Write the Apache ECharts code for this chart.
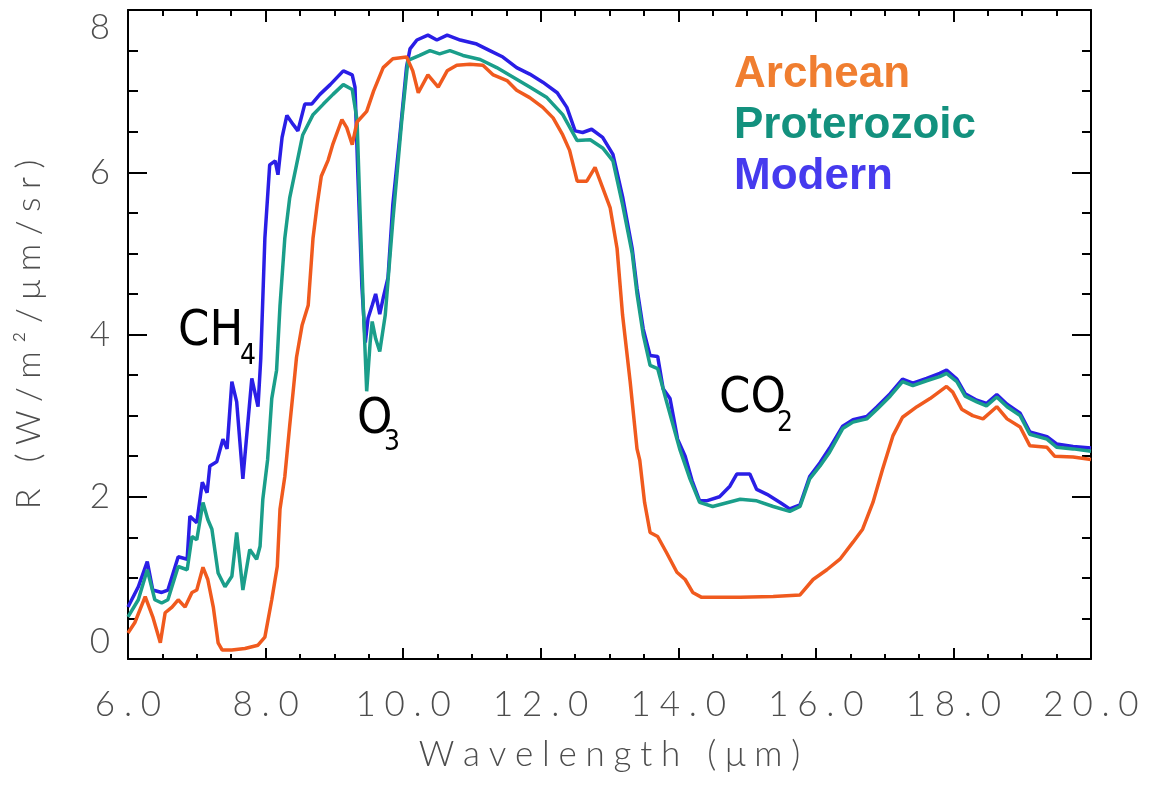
<!DOCTYPE html>
<html lang="en" style="height: 100%">
<head>
    <meta charset="utf-8">
    <title>Emission spectra</title>
    <script src="https://cdn.jsdelivr.net/npm/echarts@6/dist/echarts.min.js"></script>
</head>
<body style="height: 100%; margin: 0; background: #fff">
<div id="main" style="width:1160px;height:788px"></div>
<script type="text/javascript">
    // [wavelength (um), R]
    var archean = [
        [6.00,0.32],[6.10,0.45],[6.25,0.77],[6.36,0.52],[6.47,0.20],[6.54,0.57],[6.64,0.64],[6.73,0.73],
        [6.83,0.64],[6.93,0.82],[7.00,0.85],[7.09,1.13],[7.16,0.98],[7.24,0.64],[7.31,0.20],[7.37,0.11],
        [7.51,0.11],[7.70,0.13],[7.89,0.17],[7.99,0.27],[8.09,0.73],[8.17,1.14],[8.21,1.85],[8.28,2.25],
        [8.35,2.87],[8.40,3.29],[8.45,3.72],[8.53,4.11],[8.62,4.36],[8.69,5.19],[8.75,5.60],[8.81,5.95],
        [8.91,6.15],[8.98,6.35],[9.11,6.65],[9.18,6.55],[9.26,6.34],[9.33,6.62],[9.47,6.75],[9.57,7.00],
        [9.71,7.29],[9.85,7.40],[10.05,7.42],[10.14,7.25],[10.22,6.98],[10.36,7.20],[10.51,7.05],[10.64,7.25],
        [10.78,7.32],[10.97,7.33],[11.16,7.32],[11.31,7.20],[11.51,7.13],[11.65,7.01],[11.84,6.92],[12.03,6.80],
        [12.18,6.67],[12.32,6.46],[12.42,6.27],[12.53,5.89],[12.67,5.89],[12.79,6.06],[12.90,5.81],[13.01,5.56],
        [13.11,5.06],[13.19,4.24],[13.30,3.42],[13.40,2.59],[13.44,2.45],[13.51,1.93],[13.59,1.56],[13.70,1.51],
        [13.83,1.31],[13.98,1.07],[14.10,0.98],[14.21,0.82],[14.34,0.76],[14.90,0.76],[15.38,0.77],[15.77,0.79],
        [15.96,0.98],[16.16,1.10],[16.35,1.23],[16.54,1.44],[16.68,1.60],[16.83,1.93],[16.97,2.34],[17.12,2.75],
        [17.26,2.98],[17.47,3.11],[17.66,3.21],[17.90,3.36],[17.99,3.29],[18.12,3.08],[18.28,3.00],[18.43,2.96],
        [18.63,3.11],[18.78,2.96],[18.97,2.86],[19.11,2.63],[19.36,2.61],[19.47,2.50],[19.74,2.49],[20.00,2.46]
    ];
    var proterozoic = [
        [6.00,0.52],[6.15,0.73],[6.28,1.10],[6.39,0.73],[6.49,0.69],[6.58,0.73],[6.73,1.14],[6.86,1.10],
        [6.93,1.51],[7.00,1.47],[7.09,1.93],[7.16,1.72],[7.22,1.60],[7.31,1.06],[7.41,0.89],[7.51,1.02],
        [7.58,1.56],[7.67,0.85],[7.77,1.35],[7.87,1.23],[7.92,1.39],[7.96,1.97],[8.03,2.46],[8.09,3.21],
        [8.16,3.56],[8.21,4.36],[8.28,5.19],[8.35,5.68],[8.45,6.09],[8.54,6.46],[8.69,6.71],[8.84,6.84],
        [8.98,6.96],[9.13,7.08],[9.26,7.02],[9.33,6.64],[9.37,5.60],[9.42,4.36],[9.47,3.30],[9.52,3.90],
        [9.55,4.16],[9.60,3.95],[9.66,3.79],[9.74,4.24],[9.85,5.40],[9.98,6.64],[10.07,7.38],[10.24,7.44],
        [10.39,7.50],[10.53,7.46],[10.68,7.50],[10.87,7.44],[11.12,7.39],[11.36,7.29],[11.60,7.17],[11.84,7.05],
        [12.09,6.92],[12.32,6.71],[12.53,6.39],[12.72,6.40],[12.90,6.30],[13.05,6.14],[13.19,5.60],[13.33,5.00],
        [13.40,4.50],[13.49,4.00],[13.59,3.62],[13.70,3.58],[13.83,3.17],[14.02,2.59],[14.17,2.22],[14.31,1.93],
        [14.50,1.88],[14.90,1.97],[15.14,1.95],[15.38,1.88],[15.62,1.82],[15.77,1.88],[15.91,2.22],[16.06,2.38],
        [16.20,2.55],[16.39,2.84],[16.54,2.92],[16.74,2.96],[16.89,3.08],[17.08,3.24],[17.26,3.42],[17.41,3.37],
        [17.61,3.43],[17.80,3.48],[17.90,3.52],[18.05,3.42],[18.17,3.24],[18.34,3.17],[18.48,3.12],[18.63,3.23],
        [18.78,3.11],[18.97,3.00],[19.11,2.77],[19.36,2.71],[19.50,2.61],[19.74,2.59],[20.00,2.56]
    ];
    var modern = [
        [6.00,0.64],[6.15,0.89],[6.28,1.20],[6.36,0.85],[6.49,0.82],[6.58,0.85],[6.73,1.26],[6.86,1.23],
        [6.90,1.76],[7.00,1.68],[7.08,2.18],[7.15,2.05],[7.19,2.38],[7.29,2.43],[7.38,2.71],[7.44,2.59],
        [7.51,3.42],[7.58,3.17],[7.67,2.22],[7.80,3.46],[7.89,3.11],[7.93,3.70],[7.99,5.19],[8.06,6.09],
        [8.14,6.14],[8.18,5.97],[8.24,6.43],[8.31,6.70],[8.40,6.59],[8.47,6.51],[8.57,6.84],[8.67,6.84],
        [8.79,6.96],[8.94,7.08],[9.13,7.25],[9.26,7.20],[9.30,7.05],[9.34,6.02],[9.40,4.60],[9.45,3.90],
        [9.49,4.20],[9.55,4.36],[9.60,4.50],[9.66,4.25],[9.71,4.45],[9.78,4.70],[9.85,5.60],[9.95,6.43],
        [10.05,7.30],[10.10,7.52],[10.20,7.63],[10.36,7.69],[10.49,7.63],[10.64,7.69],[10.83,7.63],[11.07,7.58],
        [11.26,7.50],[11.45,7.42],[11.65,7.29],[11.84,7.21],[12.03,7.11],[12.24,6.98],[12.38,6.80],[12.50,6.51],
        [12.61,6.49],[12.74,6.53],[12.90,6.43],[13.05,6.22],[13.19,5.70],[13.33,5.06],[13.40,4.57],[13.49,4.07],
        [13.59,3.74],[13.70,3.73],[13.78,3.33],[13.88,3.21],[13.99,2.71],[14.10,2.50],[14.20,2.20],[14.31,1.95],
        [14.41,1.95],[14.60,2.00],[14.75,2.13],[14.85,2.28],[15.04,2.28],[15.14,2.09],[15.29,2.03],[15.48,1.93],
        [15.62,1.85],[15.77,1.90],[15.91,2.25],[16.06,2.42],[16.20,2.60],[16.39,2.87],[16.54,2.95],[16.74,2.99],
        [16.89,3.11],[17.08,3.27],[17.26,3.45],[17.41,3.40],[17.61,3.46],[17.80,3.52],[17.90,3.56],[18.05,3.45],
        [18.17,3.27],[18.34,3.19],[18.48,3.15],[18.63,3.26],[18.78,3.14],[18.97,3.03],[19.11,2.80],[19.36,2.74],
        [19.50,2.65],[19.74,2.62],[20.00,2.60]
    ];

    var seriesNames = ['Archean', 'Proterozoic', 'Modern'];
    var lineColors = ['#f05a1e', '#1a9e8a', '#2a1ee6'];
    var legendColors = ['#f07e30', '#13917e', '#463aee'];

    var axisFont = "Lato, 'Open Sans', sans-serif";
    var gray = '#4d4d4d';

    // spread characters like the original IDL lettering
    function spaced(s) {
        return s.split('').join('\u2009\u2009');
    }

    var chart = echarts.init(document.getElementById('main'));

    var tickStyle = {color: '#000', width: 2};

    // frame: four axes, ticks pointing into the plot box
    function frameAxis(pos, major, minor, extra) {
        var ax = {
            type: 'value',
            position: pos,
            axisLine: {show: true, onZero: false, lineStyle: tickStyle},
            axisTick: {show: true, inside: true, length: major, lineStyle: tickStyle},
            minorTick: {show: true, splitNumber: 4, length: minor, lineStyle: tickStyle},
            splitLine: {show: false},
            axisLabel: {show: false}
        };
        return Object.assign(ax, extra);
    }

    var option = {
        animation: false,
        backgroundColor: '#fff',
        grid: {left: 128, right: 69, top: 10, bottom: 129},
        legend: {
            orient: 'vertical',
            left: 724,
            top: 48,
            icon: 'none',
            itemWidth: 0,
            itemHeight: 44,
            itemGap: 7,
            selectedMode: false,
            data: seriesNames.map(function (n, i) {
                return {name: n, textStyle: {color: legendColors[i]}};
            }),
            textStyle: {
                fontFamily: "'Liberation Sans', Arial, sans-serif",
                fontWeight: 'bold',
                fontSize: 44
            }
        },
        xAxis: [
            frameAxis('bottom', 11, 5, {
                min: 6,
                max: 20,
                interval: 2,
                axisLabel: {
                    show: true,
                    margin: 28,
                    fontSize: 35,
                    fontFamily: axisFont,
                    fontWeight: 300,
                    color: gray,
                    formatter: function (v) {
                        return spaced(v.toFixed(1));
                    }
                },
                name: spaced('Wavelength (\u03bcm)'),
                nameLocation: 'middle',
                nameGap: 78,
                nameTextStyle: {fontSize: 35, fontFamily: axisFont, fontWeight: 300, color: gray}
            }),
            frameAxis('top', 12, 6, {min: 6, max: 20, interval: 2})
        ],
        yAxis: [
            frameAxis('left', 19, 10, {
                min: 0,
                max: 8,
                interval: 2,
                axisLabel: {
                    show: true,
                    margin: 18,
                    fontSize: 35,
                    fontFamily: axisFont,
                    fontWeight: 300,
                    color: gray,
                    verticalAlignMinLabel: 'bottom',
                    verticalAlignMaxLabel: 'top'
                },
                name: spaced('R (W/m\u00b2/\u03bcm/sr)'),
                nameLocation: 'middle',
                nameGap: 82,
                nameTextStyle: {fontSize: 34, fontFamily: axisFont, fontWeight: 300, color: gray}
            }),
            frameAxis('right', 19, 9, {min: 0, max: 8, interval: 2})
        ],
        graphic: [
            {type: 'text', x: 178, y: 332, style: {text: 'CH', font: "50px 'Liberation Sans Narrow', 'DejaVu Sans Condensed', sans-serif", fill: '#000', verticalAlign: 'middle'}},
            {type: 'text', x: 240, y: 357, style: {text: '4', font: "28px 'Liberation Sans Narrow', 'DejaVu Sans Condensed', sans-serif", fill: '#000', verticalAlign: 'middle'}},
            {type: 'text', x: 357, y: 420, style: {text: 'O', font: "50px 'Liberation Sans Narrow', 'DejaVu Sans Condensed', sans-serif", fill: '#000', verticalAlign: 'middle'}},
            {type: 'text', x: 384, y: 443, style: {text: '3', font: "28px 'Liberation Sans Narrow', 'DejaVu Sans Condensed', sans-serif", fill: '#000', verticalAlign: 'middle'}},
            {type: 'text', x: 719, y: 399, style: {text: 'CO', font: "50px 'Liberation Sans Narrow', 'DejaVu Sans Condensed', sans-serif", fill: '#000', verticalAlign: 'middle'}},
            {type: 'text', x: 777, y: 424, style: {text: '2', font: "28px 'Liberation Sans Narrow', 'DejaVu Sans Condensed', sans-serif", fill: '#000', verticalAlign: 'middle'}}
        ],
        series: [
            {name: 'Modern', type: 'line', data: modern, showSymbol: false, lineStyle: {width: 3.5, color: lineColors[2]}, itemStyle: {color: lineColors[2]}},
            {name: 'Proterozoic', type: 'line', data: proterozoic, showSymbol: false, lineStyle: {width: 3.5, color: lineColors[1]}, itemStyle: {color: lineColors[1]}},
            {name: 'Archean', type: 'line', data: archean, showSymbol: false, lineStyle: {width: 3.5, color: lineColors[0]}, itemStyle: {color: lineColors[0]}}
        ]
    };
    chart.setOption(option);
</script>
</body>
</html>
